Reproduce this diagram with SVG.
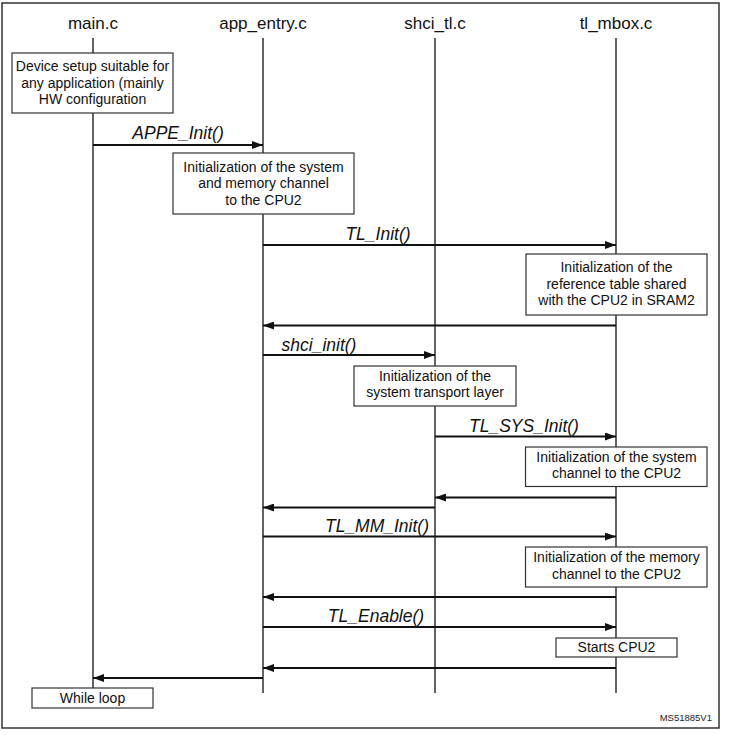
<svg xmlns="http://www.w3.org/2000/svg" width="730" height="735" viewBox="0 0 730 735">
<style>
.hdr{font-family:"Liberation Sans",Arial,sans-serif;font-size:17px;fill:#111;text-anchor:middle}
.bx rect{fill:#fff;stroke:#333;stroke-width:1.2}
.bx text{font-family:"Liberation Sans",Arial,sans-serif;font-size:14px;fill:#111;text-anchor:middle}
.life{stroke:#222;stroke-width:1.4;fill:none}
.msg{stroke:#111;stroke-width:2;fill:none;marker-end:url(#ah)}
.lbl{font-family:"Liberation Sans",Arial,sans-serif;font-size:17.5px;font-style:italic;fill:#111;text-anchor:middle}
</style>
<defs>
<marker id="ah" markerWidth="12" markerHeight="8" refX="11" refY="4" orient="auto" markerUnits="userSpaceOnUse">
<path d="M0,0 L11,4 L0,8 z" fill="#111"/>
</marker>
</defs>
<rect x="0" y="0" width="730" height="735" fill="#fff"/>
<rect x="2" y="3" width="717" height="725" fill="none" stroke="#333" stroke-width="1.5"/>

<g id="lifelines">
<g id="main_c"><text class="hdr" x="93" y="29">main.c</text><line class="life" x1="93" y1="38" x2="93" y2="688"/></g>
<g id="app_entry_c"><text class="hdr" x="263" y="29">app_entry.c</text><line class="life" x1="263" y1="38" x2="263" y2="693"/></g>
<g id="shci_tl_c"><text class="hdr" x="435" y="29">shci_tl.c</text><line class="life" x1="435" y1="38" x2="435" y2="693"/></g>
<g id="tl_mbox_c"><text class="hdr" x="616" y="29">tl_mbox.c</text><line class="life" x1="616" y1="38" x2="616" y2="693"/></g>
</g>

<g id="connectors">
<line class="msg" x1="93" y1="145" x2="263" y2="145"/>
<text class="lbl" x="178" y="139">APPE_Init()</text>
<line class="msg" x1="263" y1="245" x2="616" y2="245"/>
<text class="lbl" x="378" y="240">TL_Init()</text>
<line class="msg" x1="616" y1="325.5" x2="263" y2="325.5"/>
<line class="msg" x1="263" y1="355" x2="435" y2="355"/>
<text class="lbl" x="319" y="351">shci_init()</text>
<line class="msg" x1="435" y1="436.5" x2="616" y2="436.5"/>
<text class="lbl" x="524" y="432">TL_SYS_Init()</text>
<line class="msg" x1="616" y1="497.5" x2="435" y2="497.5"/>
<line class="msg" x1="435" y1="507.5" x2="263" y2="507.5"/>
<line class="msg" x1="263" y1="536.5" x2="616" y2="536.5"/>
<text class="lbl" x="377" y="532">TL_MM_Init()</text>
<line class="msg" x1="616" y1="597" x2="263" y2="597"/>
<line class="msg" x1="263" y1="627" x2="616" y2="627"/>
<text class="lbl" x="376" y="622">TL_Enable()</text>
<line class="msg" x1="616" y1="668" x2="263" y2="668"/>
<line class="msg" x1="263" y1="678" x2="93" y2="678"/>
</g>

<g id="box_device_setup" class="bx">
<rect x="12" y="53" width="161" height="60"/>
<text x="92.5" y="71">Device setup suitable for</text>
<text x="92.5" y="87.5">any application (mainly</text>
<text x="92.5" y="104">HW configuration</text>
</g>
<g id="box_init_system_memory" class="bx">
<rect x="173" y="153" width="181" height="61"/>
<text x="263.5" y="171.5">Initialization of the system</text>
<text x="263.5" y="188">and memory channel</text>
<text x="263.5" y="204.5">to the CPU2</text>
</g>
<g id="box_ref_table" class="bx">
<rect x="526" y="254" width="181" height="61"/>
<text x="616.5" y="272">Initialization of the</text>
<text x="616.5" y="288.5">reference table shared</text>
<text x="616.5" y="305">with the CPU2 in SRAM2</text>
</g>
<g id="box_transport" class="bx">
<rect x="354" y="366" width="162" height="40"/>
<text x="435" y="380.5">Initialization of the</text>
<text x="435" y="397">system transport layer</text>
</g>
<g id="box_sys_channel" class="bx">
<rect x="525.5" y="447" width="181.5" height="39.5"/>
<text x="616.5" y="461.5">Initialization of the system</text>
<text x="616.5" y="478">channel to the CPU2</text>
</g>
<g id="box_mem_channel" class="bx">
<rect x="525.5" y="547" width="181.5" height="40"/>
<text x="616.5" y="562">Initialization of the memory</text>
<text x="616.5" y="579">channel to the CPU2</text>
</g>
<g id="box_starts_cpu2" class="bx">
<rect x="556" y="638" width="121" height="19"/>
<text x="616.5" y="652">Starts CPU2</text>
</g>
<g id="box_while_loop" class="bx">
<rect x="32" y="688" width="121" height="20"/>
<text x="92.5" y="703">While loop</text>
</g>

<text x="712" y="721" font-family="Liberation Sans,Arial,sans-serif" font-size="9.5" fill="#222" text-anchor="end">MS51885V1</text>
</svg>
